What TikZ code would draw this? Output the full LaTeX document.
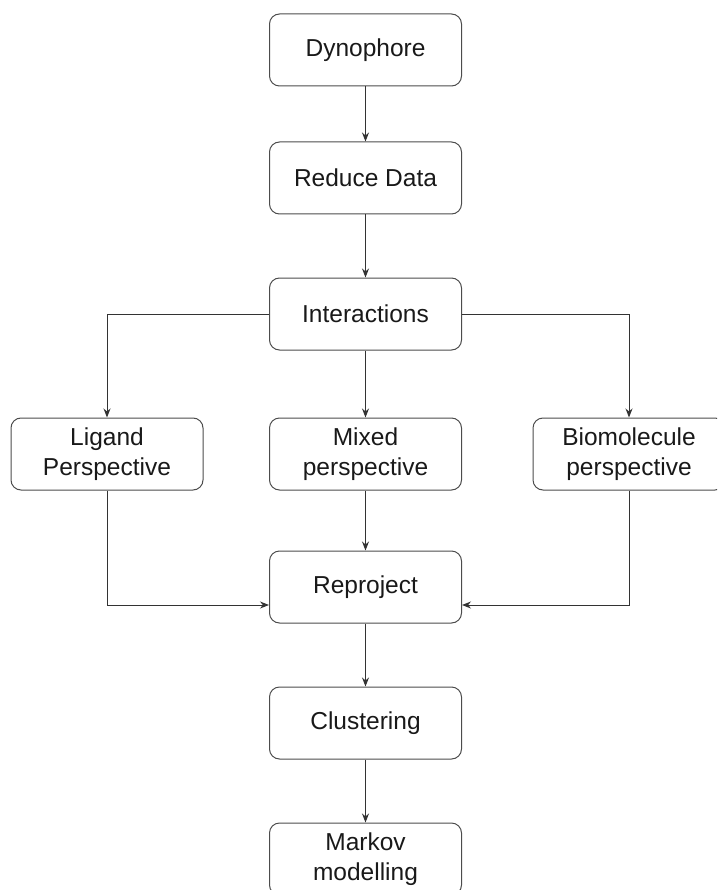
\documentclass[tikz,border=0pt]{standalone}
\usepackage{fontspec}
\setmainfont{Liberation Sans}
\usetikzlibrary{arrows.meta}
\begin{document}
\begin{tikzpicture}[x=1pt,y=-1pt,
  box/.style={draw=black!70,line width=1pt,rounded corners=10pt,minimum width=192pt,minimum height=72pt,align=center,inner sep=0pt,font=\fontsize{24.5}{29.5}\selectfont,text=black!90},
  conn/.style={draw=black!80,line width=1pt,-{Stealth[length=9pt,width=7pt]}}]
\useasboundingbox (0,0) rectangle (717,890);
\clip (0,0) rectangle (717,890);
\node[box] (dyn) at (365.5,50) {Dynophore};
\node[box] (red) at (365.5,178) {Reduce Data};
\node[box] (int) at (365.5,314) {Interactions};
\node[box] (lig) at (107,454) {Ligand\\Perspective};
\node[box] (mix) at (365.5,454) {Mixed\\perspective};
\node[box] (bio) at (629,454) {Biomolecule\\perspective};
\node[box] (rep) at (365.5,587) {Reproject};
\node[box] (clu) at (365.5,723) {Clustering};
\node[box] (mar) at (365.5,859) {Markov\\modelling};
\draw[conn] (dyn) -- (red);
\draw[conn] (red) -- (int);
\draw[conn] (int) -- (mix);
\draw[conn] (int.west) -| (lig.north);
\draw[conn] (int.east) -| (bio.north);
\draw[conn] (mix) -- (rep);
\coordinate (rl) at ([yshift=-18pt]rep.west);
\coordinate (rr) at ([yshift=-18pt]rep.east);
\draw[conn] (lig.south) |- (rl);
\draw[conn] (bio.south) |- (rr);
\draw[conn] (rep) -- (clu);
\draw[conn] (clu) -- (mar);
\end{tikzpicture}
\end{document}
